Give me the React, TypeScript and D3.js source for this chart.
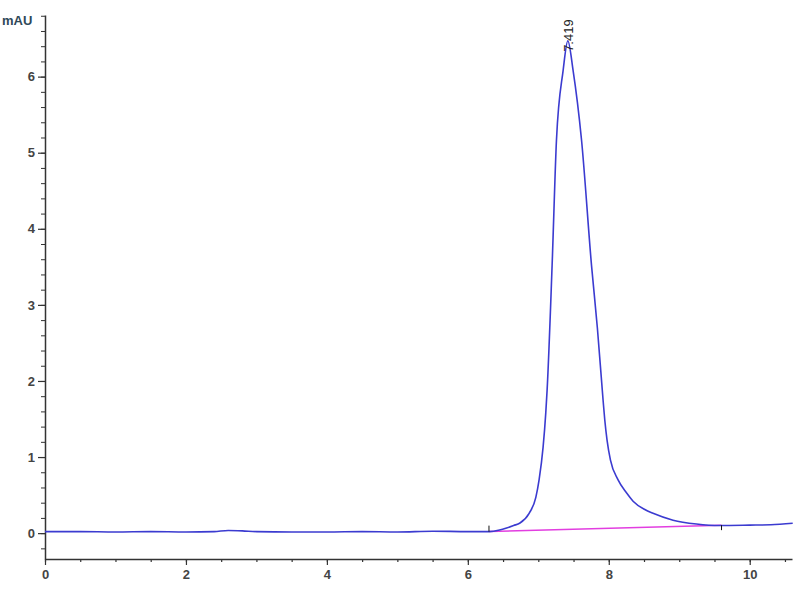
import React, { useEffect, useRef } from 'react';
import * as d3 from 'd3';

// retention time (min) and absorbance (mAU)
const times = [
  0, 0.5, 1.0, 1.5, 2.0, 2.4, 2.6, 2.8, 3.0, 3.5, 4.0, 4.5, 5.0, 5.5, 6.0, 6.3,
  6.45, 6.55, 6.65, 6.74, 6.87, 6.965, 7.011, 7.068, 7.106, 7.125, 7.196, 7.258, 7.352,
  7.419, 7.494, 7.613, 7.755, 7.838, 7.919, 7.943, 7.976, 8.024, 8.132, 8.251, 8.345,
  8.511, 8.628, 8.912, 9.244, 9.574, 10.0, 10.3, 10.61,
];
const absorbance = [
  0.02, 0.02, 0.015, 0.02, 0.015, 0.02, 0.035, 0.03, 0.02, 0.015, 0.015, 0.02, 0.015, 0.025, 0.02, 0.02,
  0.04, 0.067, 0.1, 0.133, 0.26, 0.47, 0.7, 1.13, 1.58, 1.88, 3.52, 5.17, 6.08,
  6.47, 6.08, 5.17, 3.52, 2.7, 1.75, 1.49, 1.22, 0.96, 0.7, 0.53, 0.42,
  0.31, 0.26, 0.17, 0.12, 0.1, 0.105, 0.11, 0.13,
];

// integration baseline (start, end)
const baseTimes = [6.3, 9.6];
const baseValues = [0.02, 0.105];

const peakTime = 7.419;
const peakValue = 6.47;
const peakLabel = '7.419';

const xMajor = [0, 2, 4, 6, 8, 10];
const yMajor = [0, 1, 2, 3, 4, 5, 6];

const App = () => {
  const ref = useRef<SVGSVGElement | null>(null);

  useEffect(() => {
    const svg = d3.select(ref.current);
    svg.selectAll('*').remove();

    const x = d3.scaleLinear().domain([0, 10.6]).range([45, 792]);
    const y = d3.scaleLinear().domain([-0.34, 6.81]).range([559, 15]);

    const axisColor = '#333';
    const labelFont = 'Liberation Sans, Arial, sans-serif';

    // y axis: minor then major
    const yMinor = d3.range(-0.2, 6.81, 0.2).map((v) => +v.toFixed(1));
    svg.append('g')
      .attr('transform', 'translate(45,0)')
      .call(d3.axisLeft(y).tickValues(yMinor).tickSize(4).tickSizeOuter(0).tickFormat(() => ''))
      .call((g) => g.select('.domain').attr('stroke', axisColor).attr('stroke-width', 1.5))
      .call((g) => g.selectAll('.tick line').attr('stroke', axisColor));
    svg.append('g')
      .attr('transform', 'translate(45,0)')
      .call(d3.axisLeft(y).tickValues(yMajor).tickSize(7).tickSizeOuter(0).tickFormat(d3.format('d')))
      .call((g) => g.select('.domain').remove())
      .call((g) => g.selectAll('.tick line').attr('stroke', axisColor).attr('stroke-width', 1.2))
      .call((g) => g.selectAll('.tick text')
        .attr('fill', '#444')
        .attr('font-family', labelFont)
        .attr('font-weight', 'bold')
        .attr('font-size', 13)
        .attr('x', -10));

    // x axis
    const xMinor = d3.range(0, 10.51, 0.5).map((v) => +v.toFixed(1));
    svg.append('g')
      .attr('transform', 'translate(0,559)')
      .call(d3.axisBottom(x).tickValues(xMinor).tickSize(3).tickSizeOuter(0).tickFormat(() => ''))
      .call((g) => g.select('.domain').attr('stroke', axisColor).attr('stroke-width', 1.5))
      .call((g) => g.selectAll('.tick line').attr('stroke', axisColor).attr('stroke-width', 1.2));
    svg.append('g')
      .attr('transform', 'translate(0,559)')
      .call(d3.axisBottom(x).tickValues(xMajor).tickSize(6).tickSizeOuter(0).tickFormat(d3.format('d')))
      .call((g) => g.select('.domain').remove())
      .call((g) => g.selectAll('.tick text')
        .attr('fill', '#444')
        .attr('font-family', labelFont)
        .attr('font-weight', 'bold')
        .attr('font-size', 13)
        .attr('y', 11))
      .call((g) => g.selectAll('.tick line').attr('stroke', axisColor).attr('stroke-width', 1.2));

    // unit label
    svg.append('text')
      .attr('x', 2)
      .attr('y', 25)
      .attr('fill', '#2f4858')
      .attr('font-family', labelFont)
      .attr('font-weight', 'bold')
      .attr('font-size', 13)
      .text('mAU');

    // integration baseline
    const baseData = baseTimes.map((t, i) => [t, baseValues[i]] as [number, number]);
    svg.append('path')
      .datum(baseData)
      .attr('fill', 'none')
      .attr('stroke', '#e23ee0')
      .attr('stroke-width', 1.5)
      .attr('d', d3.line<[number, number]>().x((d) => x(d[0])).y((d) => y(d[1])));

    // trace
    const data = times.map((t, i) => [t, absorbance[i]] as [number, number]);
    svg.append('path')
      .datum(data)
      .attr('fill', 'none')
      .attr('stroke', '#3b3bd0')
      .attr('stroke-width', 1.6)
      .attr('d', d3.line<[number, number]>()
        .x((d) => x(d[0]))
        .y((d) => y(d[1]))
        .curve(d3.curveMonotoneX));

    // baseline start / end markers
    svg.append('line')
      .attr('x1', x(baseTimes[0])).attr('x2', x(baseTimes[0]))
      .attr('y1', y(baseValues[0]) - 6).attr('y2', y(baseValues[0]))
      .attr('stroke', '#111').attr('stroke-width', 1);
    svg.append('line')
      .attr('x1', x(baseTimes[1])).attr('x2', x(baseTimes[1]))
      .attr('y1', y(baseValues[1])).attr('y2', y(baseValues[1]) + 5)
      .attr('stroke', '#111').attr('stroke-width', 1);

    // peak label
    svg.append('text')
      .attr('transform', `translate(${x(peakTime) + 5},${y(peakValue) + 11}) rotate(-90)`)
      .attr('fill', '#222')
      .attr('font-family', labelFont)
      .attr('font-size', 13)
      .text(peakLabel);
  }, []);

  return (
    <svg
      ref={ref}
      width={800}
      height={600}
      style={{ position: 'absolute', left: 0, top: 0, background: '#fff' }}
    />
  );
};

export default App;
